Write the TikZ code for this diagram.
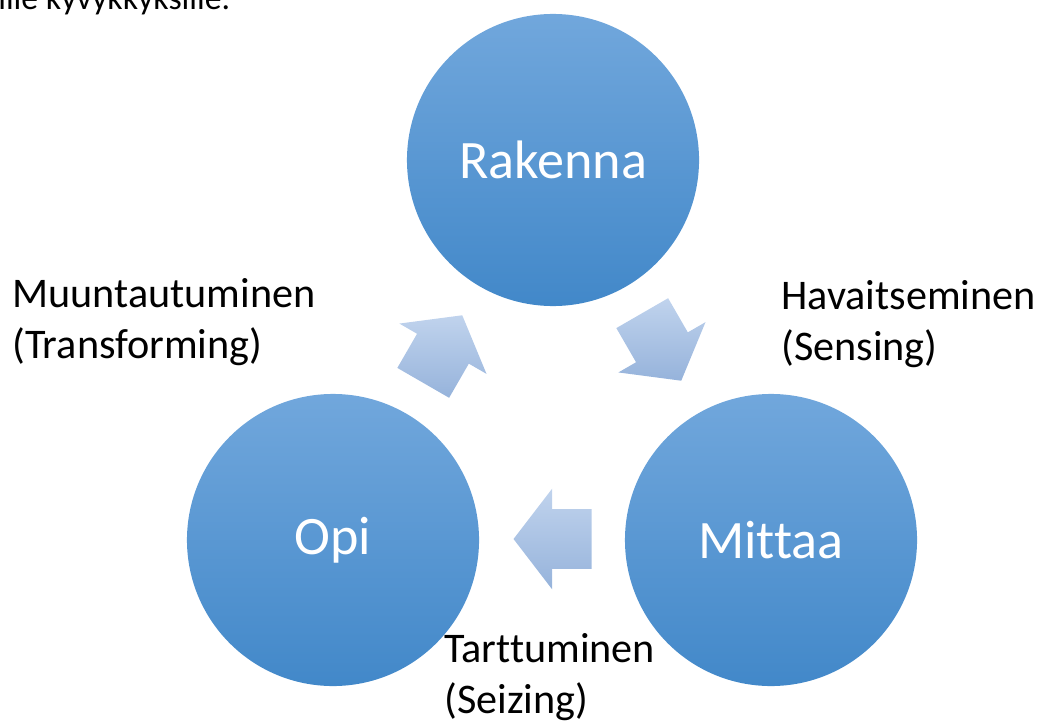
\documentclass[tikz,border=0pt]{standalone}
\usepackage{fontspec}
\setmainfont{Carlito}[Ligatures=NoCommon]
\usetikzlibrary{shapes.arrows}
\definecolor{stagetop}{RGB}{113,167,220}
\definecolor{stagebot}{RGB}{66,136,201}
\definecolor{flowtop}{RGB}{192,211,237}
\definecolor{flowbot}{RGB}{150,179,219}
\tikzset{
  stage/.style={circle, minimum size=7.3cm, inner sep=0pt,
                top color=stagetop, bottom color=stagebot,
                text=white, font=\fontsize{38.5}{46}\selectfont},
  flow/.style={single arrow, minimum height=1.95cm, inner xsep=0pt,
               inner ysep=0.74cm, single arrow head extend=0.51cm,
               single arrow tip angle=105,
               top color=flowtop, bottom color=flowbot},
  stagenote/.style={anchor=west, align=left, inner sep=0pt,
                    font=\fontsize{30}{36}\selectfont}
}
\begin{document}
\begin{tikzpicture}[x=0.025cm, y=-0.025cm]
  \useasboundingbox (0,0) rectangle (1038,722);
  % tail of the paragraph above, cut by the page edge
  \node[anchor=base west, inner sep=0pt, font=\fontsize{24}{29}\selectfont]
    (intro) at (-2,10) {ille kyvykkyksille.};
  \node[stage] (rakenna) at (553,160) {Rakenna};
  \node[stage] (mittaa)  at (771,540) {Mittaa};
  \node[stage] (opi)     at (333,540) {Opi};
  \foreach \name/\x/\y/\ang in {sense/656/337/-60, seize/564/539/180,
                                transform/437/359/60} {
    \node[flow, rotate=\ang] (\name) at (\x,\y) {};
  }
  \node[stagenote] (havaitse) at (781,324) {Havaitseminen\\(Sensing)};
  \node[stagenote] (tarttu)   at (444,677) {Tarttuminen\\(Seizing)};
  \node[stagenote] (muunta)   at (12,322)  {Muuntautuminen\\(Transforming)};
\end{tikzpicture}
\end{document}
